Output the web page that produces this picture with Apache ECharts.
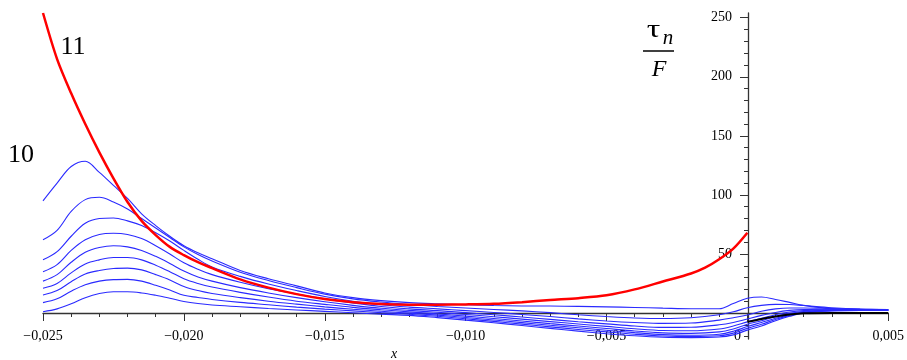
<!DOCTYPE html>
<html>
<head>
<meta charset="utf-8">
<script src="https://cdn.jsdelivr.net/npm/echarts@6/dist/echarts.min.js"></script>
<style>
html, body { margin: 0; padding: 0; background: #fff; }
#chart { width: 907px; height: 360px; }
</style>
</head>
<body>
<div id="chart"></div>
<script>
// shared x positions of the blue family
const xs = [-0.025, -0.0245, -0.024, -0.0235, -0.023, -0.0225, -0.022, -0.0215, -0.021, -0.0205, -0.020, -0.0195, -0.019,
  -0.018, -0.017, -0.016, -0.015, -0.014, -0.013, -0.012, -0.011, -0.010, -0.009, -0.008, -0.007, -0.006,
  -0.005, -0.004, -0.003, -0.002, -0.001, -0.0005, 0, 0.0005, 0.001, 0.0015, 0.002, 0.003, 0.004, 0.005];

const blue1 = [95, 110, 124, 128.5, 119, 108, 97, 84, 74, 65, 57, 51, 46,
  36, 29, 23, 17, 13, 10.5, 8.8, 7.8, 7, 6.3, 6, 5.9, 5.6,
  5.2, 4.7, 4.1, 3.6, 3.6, 8, 12.5, 13.6, 11.5, 9, 6.5, 3.6, 2.6, 2.2];
const blue2 = [62, 70, 86, 96, 98, 94, 88, 80, 72, 64, 56, 49.5, 44,
  34.5, 27.5, 21.5, 16, 12, 9.3, 7.2, 5.5, 4.2, 3, 1.8, 0.3, -1.5,
  -3, -4.2, -4.7, -4, -1.5, 1, 4.5, 6.5, 7.3, 7.2, 6.3, 4.5, 3.4, 3];
const blue3 = [45, 52, 65, 76, 80, 80.5, 78, 74, 68, 61, 53, 45.5, 39,
  31, 24.5, 19, 14, 10, 7, 5, 3.5, 2, 0.5, -1.2, -3, -5,
  -6.7, -8, -8.8, -8.5, -6, -4, -1.7, 1.5, 3.5, 4.3, 4.3, 3.8, 3.3, 3];
const blue4 = [35, 41, 53, 62, 66.5, 67.5, 66.5, 63, 57, 50, 42.5, 37, 32.5,
  26, 20.5, 16, 12, 8.5, 5.5, 3.5, 2, 0.3, -1.5, -3.4, -5.4, -7.4,
  -9.2, -11, -12.2, -12, -10, -8, -5, -2, 0.5, 2.2, 3, 3.2, 3, 2.8];
const blue5 = [27, 32.5, 43, 51.5, 55.5, 57, 56, 53, 48, 42, 35.5, 30.5, 27,
  21.5, 17, 13, 9.5, 6.5, 4, 2.2, 0.6, -1.2, -3.1, -5.2, -7.3, -9.3,
  -11.3, -13.3, -14.8, -15, -13.5, -11, -7.5, -4.5, -1.5, 0.8, 2, 2.8, 2.8, 2.6];
const blue6 = [21, 25, 34, 41.5, 45, 47, 47, 45, 40.5, 35, 29, 25, 22,
  17.5, 13.5, 10, 7.3, 4.8, 2.8, 1, -0.7, -2.6, -4.6, -6.8, -9, -11,
  -13.1, -15.2, -16.8, -17.2, -16, -13.5, -9.5, -6.5, -3, -0.3, 1.3, 2.5, 2.6, 2.5];
const blue7 = [15.3, 19, 26.5, 33, 36, 37.7, 38, 36.5, 32.5, 28, 22.5, 19, 16.5,
  13, 10, 7.5, 5.2, 3.2, 1.5, -0.1, -1.8, -3.8, -5.9, -8.1, -10.4, -12.5,
  -14.6, -16.6, -18.3, -18.8, -18, -15.5, -11.5, -8, -4.5, -1.3, 0.8, 2.2, 2.4, 2.3];
const blue8 = [8.8, 12, 18.5, 24, 27, 28.3, 28.5, 27, 23.5, 19.5, 15, 13.2, 11.5,
  9, 7, 5, 3.3, 1.8, 0.3, -1, -2.8, -4.9, -7.1, -9.4, -11.7, -13.9,
  -16, -18, -19.5, -20, -19.3, -17, -13, -9.5, -5.5, -2, 0.4, 2, 2.2, 2.2];
const blue9 = [1.1, 3.5, 7.8, 13, 16.5, 18, 18, 17, 15, 12.5, 9.8, 8, 6.8,
  5.3, 3.8, 2.6, 1.4, 0.2, -1, -2, -3.9, -6, -8.2, -10.6, -13, -15.3,
  -17.5, -19.3, -20.5, -20.8, -20.3, -18.5, -14.5, -11, -6.5, -2.8, 0, 1.8, 2.1, 2.1];

// red curve (11)
const redX = [-0.025, -0.0245, -0.024, -0.0235, -0.023, -0.0225, -0.022, -0.0215, -0.021, -0.0205, -0.020, -0.0195, -0.019,
  -0.018, -0.017, -0.016, -0.015, -0.014, -0.013, -0.012, -0.011, -0.010, -0.009, -0.008, -0.007, -0.006,
  -0.005, -0.004, -0.003, -0.002, -0.0015, -0.001, -0.0005, 0];
const redY = [254, 215, 186, 160, 136, 114, 94, 78, 66, 56, 49, 43, 38,
  28.5, 21.5, 16, 11.8, 9.2, 7.6, 7.1, 7.1, 7.3, 7.8, 9.2, 11, 12.6,
  15, 20, 26.7, 33.5, 38.4, 45.5, 54.5, 68];

// short black curve right of the axis
const blackX = [0, 0.0005, 0.001, 0.0015, 0.002, 0.003, 0.004, 0.005];
const blackY = [-7.5, -5, -3, -1.3, -0.3, 0, 0, 0];

const yTicks = [50, 100, 150, 200, 250];

const blues = [blue1, blue2, blue3, blue4, blue5, blue6, blue7, blue8, blue9];

// axis ranges and plot box
const xMin = -0.025, xMax = 0.005, yMin = -22, yMax = 254;
const gridL = 43, gridR = 18, gridT = 13, gridB = 21;
const plotW = 907 - gridL - gridR;
const plotH = 360 - gridT - gridB;
// move the axes onto x=0 / y=0 (labels too)
const xAxisOffset = -(0 - yMin) / (yMax - yMin) * plotH;
const yAxisOffset = -(0 - xMin) / (xMax - xMin) * plotW;

function pairs(x, y) {
  return x.map((v, i) => [v, y[i]]);
}

function fmtX(v) {
  if (Math.abs(v) < 1e-9) return '{z|0}';
  const s = Math.abs(v).toFixed(3).replace('.', ',');
  return v < 0 ? '\u2212' + s : s;
}

const series = blues.map(b => ({
  type: 'line',
  data: pairs(xs, b),
  smooth: 0.35,
  showSymbol: false,
  lineStyle: { color: '#2a2aff', width: 1.1 },
  z: 2
}));
series.push({
  type: 'line',
  data: pairs(blackX, blackY),
  smooth: 0.3,
  showSymbol: false,
  lineStyle: { color: '#000', width: 2 },
  z: 3
});
series.push({
  type: 'line',
  data: pairs(redX, redY),
  smooth: 0.3,
  showSymbol: false,
  lineStyle: { color: '#ff0000', width: 2.5 },
  z: 4
});

const font = '"Liberation Serif", "Times New Roman", serif';

const chart = echarts.init(document.getElementById('chart'), null, { renderer: 'canvas' });
chart.setOption({
  animation: false,
  backgroundColor: '#fff',
  grid: { left: gridL, right: gridR, top: gridT, bottom: gridB, containLabel: false },
  xAxis: {
    type: 'value',
    min: xMin,
    max: xMax,
    interval: 0.005,
    position: 'bottom',
    offset: xAxisOffset,
    axisLine: { onZero: false, lineStyle: { color: '#333', width: 1.3 } },
    axisTick: { show: true, length: 8, lineStyle: { color: '#333' } },
    minorTick: { show: true, splitNumber: 5, length: 4, lineStyle: { color: '#333' } },
    splitLine: { show: false },
    axisLabel: {
      margin: 16,
      color: '#000',
      fontFamily: font,
      fontSize: 14,
      formatter: fmtX,
      rich: { z: { fontFamily: font, fontSize: 14, color: '#000', padding: [0, 20, 0, 0] } }
    }
  },
  yAxis: {
    type: 'value',
    min: yMin,
    max: yMax,
    position: 'left',
    offset: yAxisOffset,
    axisLine: { onZero: false, lineStyle: { color: '#333', width: 1.3 } },
    axisTick: { show: true, length: 8, customValues: [0].concat(yTicks), lineStyle: { color: '#333' } },
    minorTick: { show: true, splitNumber: 5, length: 4, lineStyle: { color: '#333' } },
    splitLine: { show: false },
    axisLabel: {
      margin: 16,
      color: '#000',
      fontFamily: font,
      fontSize: 14,
      customValues: yTicks
    }
  },
  graphic: [
    { type: 'text', x: 73, y: 47, style: { text: '11', fontFamily: font, fontSize: 26, fill: '#000', align: 'center', verticalAlign: 'middle' } },
    { type: 'text', x: 21, y: 155, style: { text: '10', fontFamily: font, fontSize: 26, fill: '#000', align: 'center', verticalAlign: 'middle' } },
    { type: 'text', x: 653.5, y: 30, scaleX: 1.35, style: { text: '\u03c4', fontFamily: font, fontSize: 25, fill: '#000', align: 'center', verticalAlign: 'middle' } },
    { type: 'text', x: 668, y: 38, style: { text: 'n', fontFamily: font, fontStyle: 'italic', fontSize: 21, fill: '#000', align: 'center', verticalAlign: 'middle' } },
    { type: 'line', shape: { x1: 643, y1: 51, x2: 674, y2: 51 }, style: { stroke: '#000', lineWidth: 1.5 } },
    { type: 'text', x: 659, y: 70, style: { text: 'F', fontFamily: font, fontStyle: 'italic', fontSize: 24, fill: '#000', align: 'center', verticalAlign: 'middle' } },
    { type: 'text', x: 394, y: 354, style: { text: 'x', fontFamily: font, fontStyle: 'italic', fontSize: 14, fill: '#000', align: 'center', verticalAlign: 'middle' } }
  ],
  series: series
});
</script>
</body>
</html>
